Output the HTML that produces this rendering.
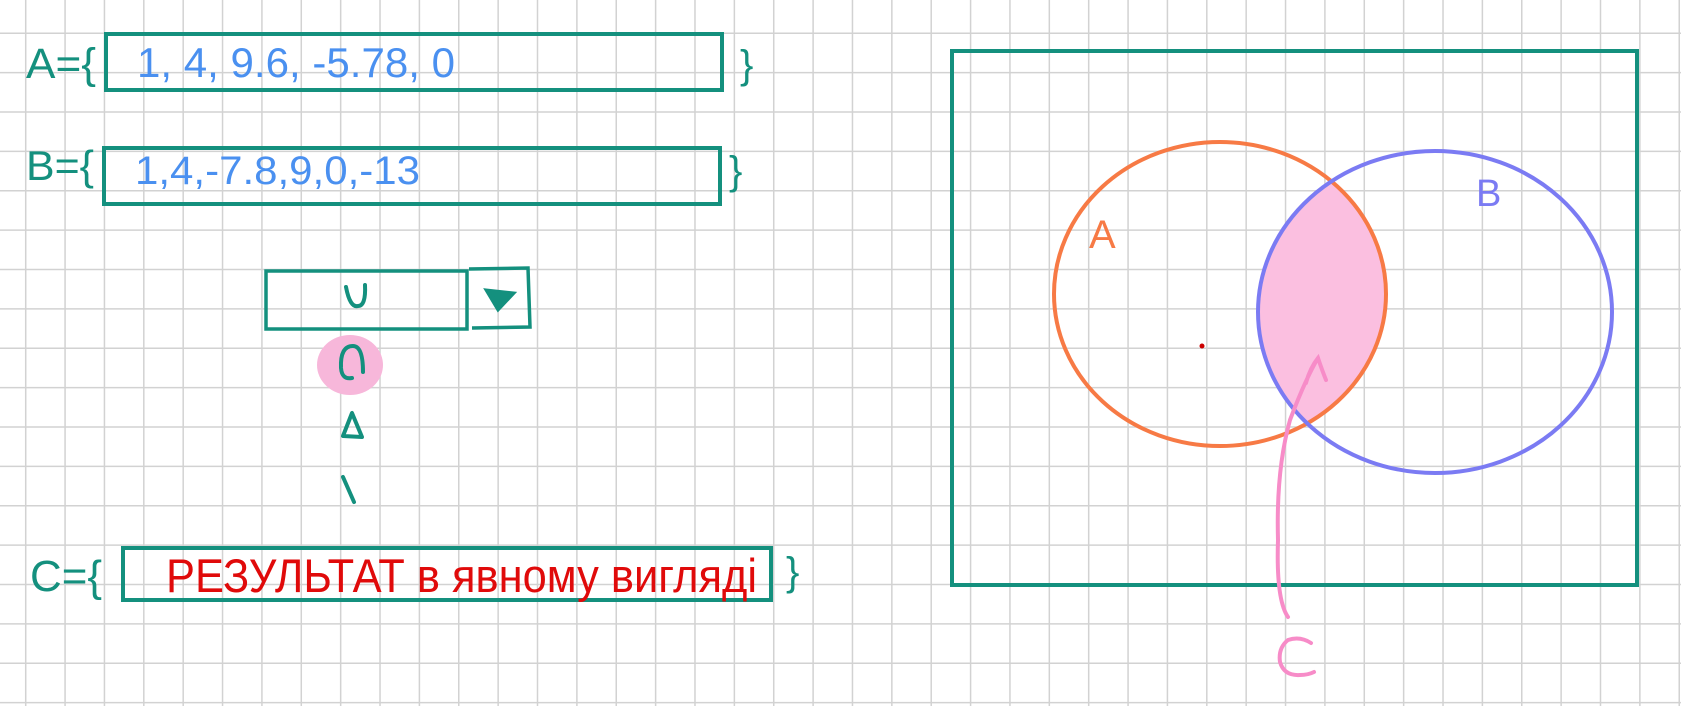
<!DOCTYPE html>
<html><head><meta charset="utf-8"><style>
html,body{margin:0;padding:0;background:#fff;overflow:hidden}
svg{display:block}
</style></head><body>
<svg id="s" width="1681" height="706" viewBox="0 0 1681 706" xmlns="http://www.w3.org/2000/svg" font-family="Liberation Sans, sans-serif">
<defs>
<clipPath id="clipA"><ellipse cx="1220" cy="294" rx="166" ry="152"/></clipPath>
</defs>
<g id="grid" stroke="#d2d2d2" stroke-width="1.5"></g>

<!-- Left side -->
<text x="26" y="78" font-size="43" fill="#14907e" textLength="70" lengthAdjust="spacingAndGlyphs">A={</text>
<rect x="106" y="34" width="616" height="56" fill="none" stroke="#14907e" stroke-width="4"/>
<text x="137" y="77" font-size="42" fill="#4a90f0" textLength="318" lengthAdjust="spacingAndGlyphs">1, 4, 9.6, -5.78, 0</text>
<text x="740" y="78" font-size="40" fill="#14907e">}</text>

<text x="26" y="180" font-size="42" fill="#14907e" textLength="68" lengthAdjust="spacingAndGlyphs">B={</text>
<rect x="104" y="148" width="616" height="56" fill="none" stroke="#14907e" stroke-width="4"/>
<text x="135" y="184" font-size="40" fill="#4a90f0" textLength="285" lengthAdjust="spacingAndGlyphs">1,4,-7.8,9,0,-13</text>
<text x="729" y="184" font-size="40" fill="#14907e">}</text>

<rect x="266" y="271" width="201" height="58" fill="none" stroke="#14907e" stroke-width="3.5"/>
<path d="M469 269 L528 268 L530 327 L472 328" fill="none" stroke="#14907e" stroke-width="3.5"/>
<path d="M486 290 L514 293 L498 310 Z M490 290 L497 308 M492 299 L505 296" fill="#14907e" stroke="#14907e" stroke-width="3"/>
<path d="M346 287 Q350 308 358 306 Q366 306 365 285" fill="none" stroke="#14907e" stroke-width="4" stroke-linecap="round"/>
<ellipse cx="350" cy="365" rx="33" ry="30" fill="#f7b7da"/>
<path d="M363 372 Q363 346 353 346 Q340 346 341 368 Q342 380 352 378" fill="none" stroke="#14907e" stroke-width="4" stroke-linecap="round"/>
<path d="M352 413 L343 436 L362 437 Z" fill="none" stroke="#14907e" stroke-width="4" stroke-linejoin="round"/>
<path d="M343 477 L354 502" fill="none" stroke="#14907e" stroke-width="4" stroke-linecap="round"/>

<text x="30" y="591" font-size="44" fill="#14907e" textLength="72" lengthAdjust="spacingAndGlyphs">C={</text>
<rect x="123" y="548" width="648" height="52" fill="none" stroke="#14907e" stroke-width="4"/>
<text x="166" y="592" font-size="47" fill="#e00a0a" textLength="591" lengthAdjust="spacingAndGlyphs">РЕЗУЛЬТАТ  в явному вигляді</text>
<text x="786" y="585" font-size="40" fill="#14907e">}</text>

<!-- Venn -->
<rect x="952" y="51" width="685" height="534" fill="none" stroke="#14907e" stroke-width="4"/>
<ellipse cx="1435" cy="312" rx="177" ry="161" fill="#fbbfe0" clip-path="url(#clipA)"/>
<ellipse cx="1220" cy="294" rx="166" ry="152" fill="none" stroke="#f77a45" stroke-width="4"/>
<ellipse cx="1435" cy="312" rx="177" ry="161" fill="none" stroke="#7b7bf3" stroke-width="4"/>
<text x="1089" y="248" font-size="40" fill="#f77a45">A</text>
<text x="1476" y="206" font-size="38" fill="#7b7bf3">B</text>
<circle cx="1202" cy="346" r="2.5" fill="#c00"/>
<path d="M1288 617 Q1276 600 1278 540 Q1276 470 1290 420 Q1305 380 1318 358 M1306 383 Q1310 368 1318 358 Q1322 370 1326 380" fill="none" stroke="#f78cc8" stroke-width="4" stroke-linecap="round"/>
<path d="M1311 643 Q1300 636 1288 640 Q1278 648 1280 662 Q1284 676 1300 675 Q1308 675 1314 672" fill="none" stroke="#f78cc8" stroke-width="4" stroke-linecap="round"/>
</svg>
<script>
const g=document.getElementById('grid');
const ns='http://www.w3.org/2000/svg';
const step=39.37;
for(let x=25.7;x<1681;x+=step){const l=document.createElementNS(ns,'line');l.setAttribute('x1',x);l.setAttribute('x2',x);l.setAttribute('y1',0);l.setAttribute('y2',706);


g.appendChild(l);}
for(let y=33.3;y<706;y+=step){const l=document.createElementNS(ns,'line');l.setAttribute('y1',y);l.setAttribute('y2',y);l.setAttribute('x1',0);l.setAttribute('x2',1681);


g.appendChild(l);}
</script>
</body></html>
